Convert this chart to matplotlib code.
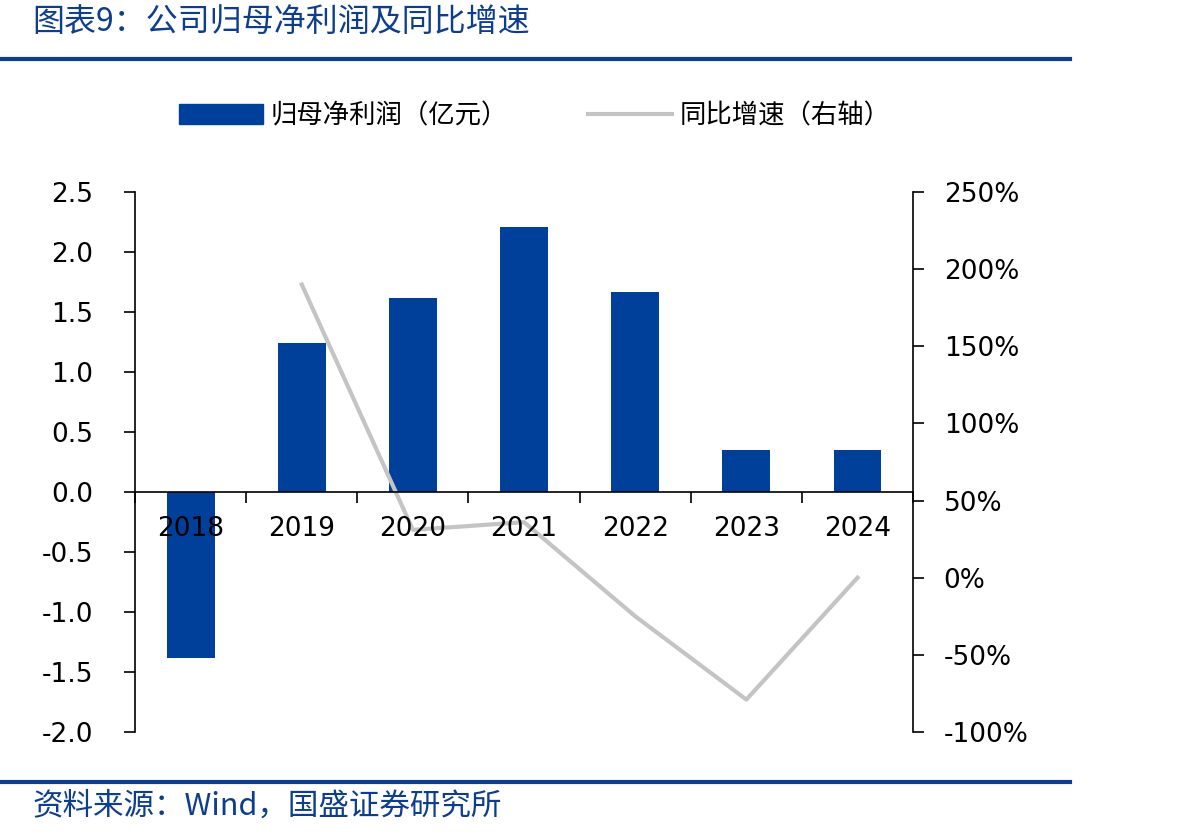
import matplotlib.pyplot as plt
from matplotlib.lines import Line2D
from matplotlib.patches import Patch

plt.rcParams['font.family'] = ['DejaVu Sans']
CJK = ['Noto Sans CJK SC', 'DejaVu Sans']

# data
years = ['2018', '2019', '2020', '2021', '2022', '2023', '2024']
profit = [-1.38, 1.24, 1.62, 2.21, 1.67, 0.35, 0.35]       # 亿元
growth_years = [1, 2, 3, 4, 5, 6]                            # index into years
growth = [190, 31, 36, -25, -79, 0]                          # %

left_ticks = [-2.0, -1.5, -1.0, -0.5, 0.0, 0.5, 1.0, 1.5, 2.0, 2.5]
right_ticks = [-100, -50, 0, 50, 100, 150, 200, 250]

blue = '#00409A'
title_blue = '#0D3E8E'
gray = '#C4C4C4'

fig = plt.figure(figsize=(11.92, 8.38), dpi=100)
ax = fig.add_axes([0.1133, 0.1265, 0.6527, 0.6444])
ax2 = ax.twinx()
# left axes on top so the year labels sit above the growth line
ax.set_zorder(ax2.get_zorder() + 1)
ax.patch.set_visible(False)

x = list(range(len(years)))
ax.bar(x, profit, width=0.43, color=blue, zorder=2)
ax.set_axisbelow(False)
ax.set_xlim(-0.5, len(years) - 0.5)
ax.set_ylim(-2.0, 2.5)
ax.set_yticks(left_ticks)
ax.set_yticklabels([f'{v:.1f}' for v in left_ticks])

ax.spines['top'].set_visible(False)
ax.spines['right'].set_visible(False)
ax.spines['bottom'].set_position(('data', 0))
ax.set_xticks(x)
ax.set_xticklabels(years)
ax.set_xticks([i - 0.5 for i in range(len(years) + 1)], minor=True)
ax.tick_params(axis='x', which='major', length=0, pad=17, labelsize=19)
ax.tick_params(axis='x', which='minor', length=8, direction='out', width=1.2)
ax.tick_params(axis='y', length=8, width=1.2, pad=22, labelsize=19)
for s in ['left', 'bottom']:
    ax.spines[s].set_linewidth(1.2)

ax2.set_ylim(-100, 250)
ax2.set_yticks(right_ticks)
ax2.set_yticklabels([f'{v}%' for v in right_ticks])
ax2.tick_params(axis='y', length=8, width=1.2, pad=14, labelsize=19)
for s in ['top', 'left', 'bottom']:
    ax2.spines[s].set_visible(False)
ax2.spines['right'].set_linewidth(1.2)

# growth line: drawn in the left axes (above bars, below labels) on the right scale
ax.plot([x[i] for i in growth_years], growth, color=gray, linewidth=3, zorder=2.2,
        transform=ax2.transData)
ax.set_xlim(-0.5, len(years) - 0.5)
ax.set_ylim(-2.0, 2.5)

# legend
handles = [Patch(facecolor=blue, edgecolor=blue),
           Line2D([0], [0], color=gray, linewidth=3)]
labels = ['归母净利润（亿元）', '同比增速（右轴）']
fig.legend(handles, labels, loc='center left', bbox_to_anchor=(0.130, 0.862),
           ncol=2, frameon=False, prop={'family': CJK, 'size': 19},
           handlelength=3.2, handleheight=0.8, columnspacing=3.0, handletextpad=0.3)

# title, rules and source
fig.text(0.027, 0.974, '图表9：公司归母净利润及同比增速', family=CJK, fontsize=23,
         color=title_blue, va='center', ha='left', style='italic')
fig.add_artist(Line2D([0, 0.898], [0.929, 0.929], color=title_blue, linewidth=3))
fig.add_artist(Line2D([0, 0.898], [0.067, 0.067], color=title_blue, linewidth=3))
fig.text(0.027, 0.038, '资料来源：Wind，国盛证券研究所', family=CJK, fontsize=22,
         color=title_blue, va='center', ha='left', style='italic')

fig.savefig('out.png', dpi=100)
